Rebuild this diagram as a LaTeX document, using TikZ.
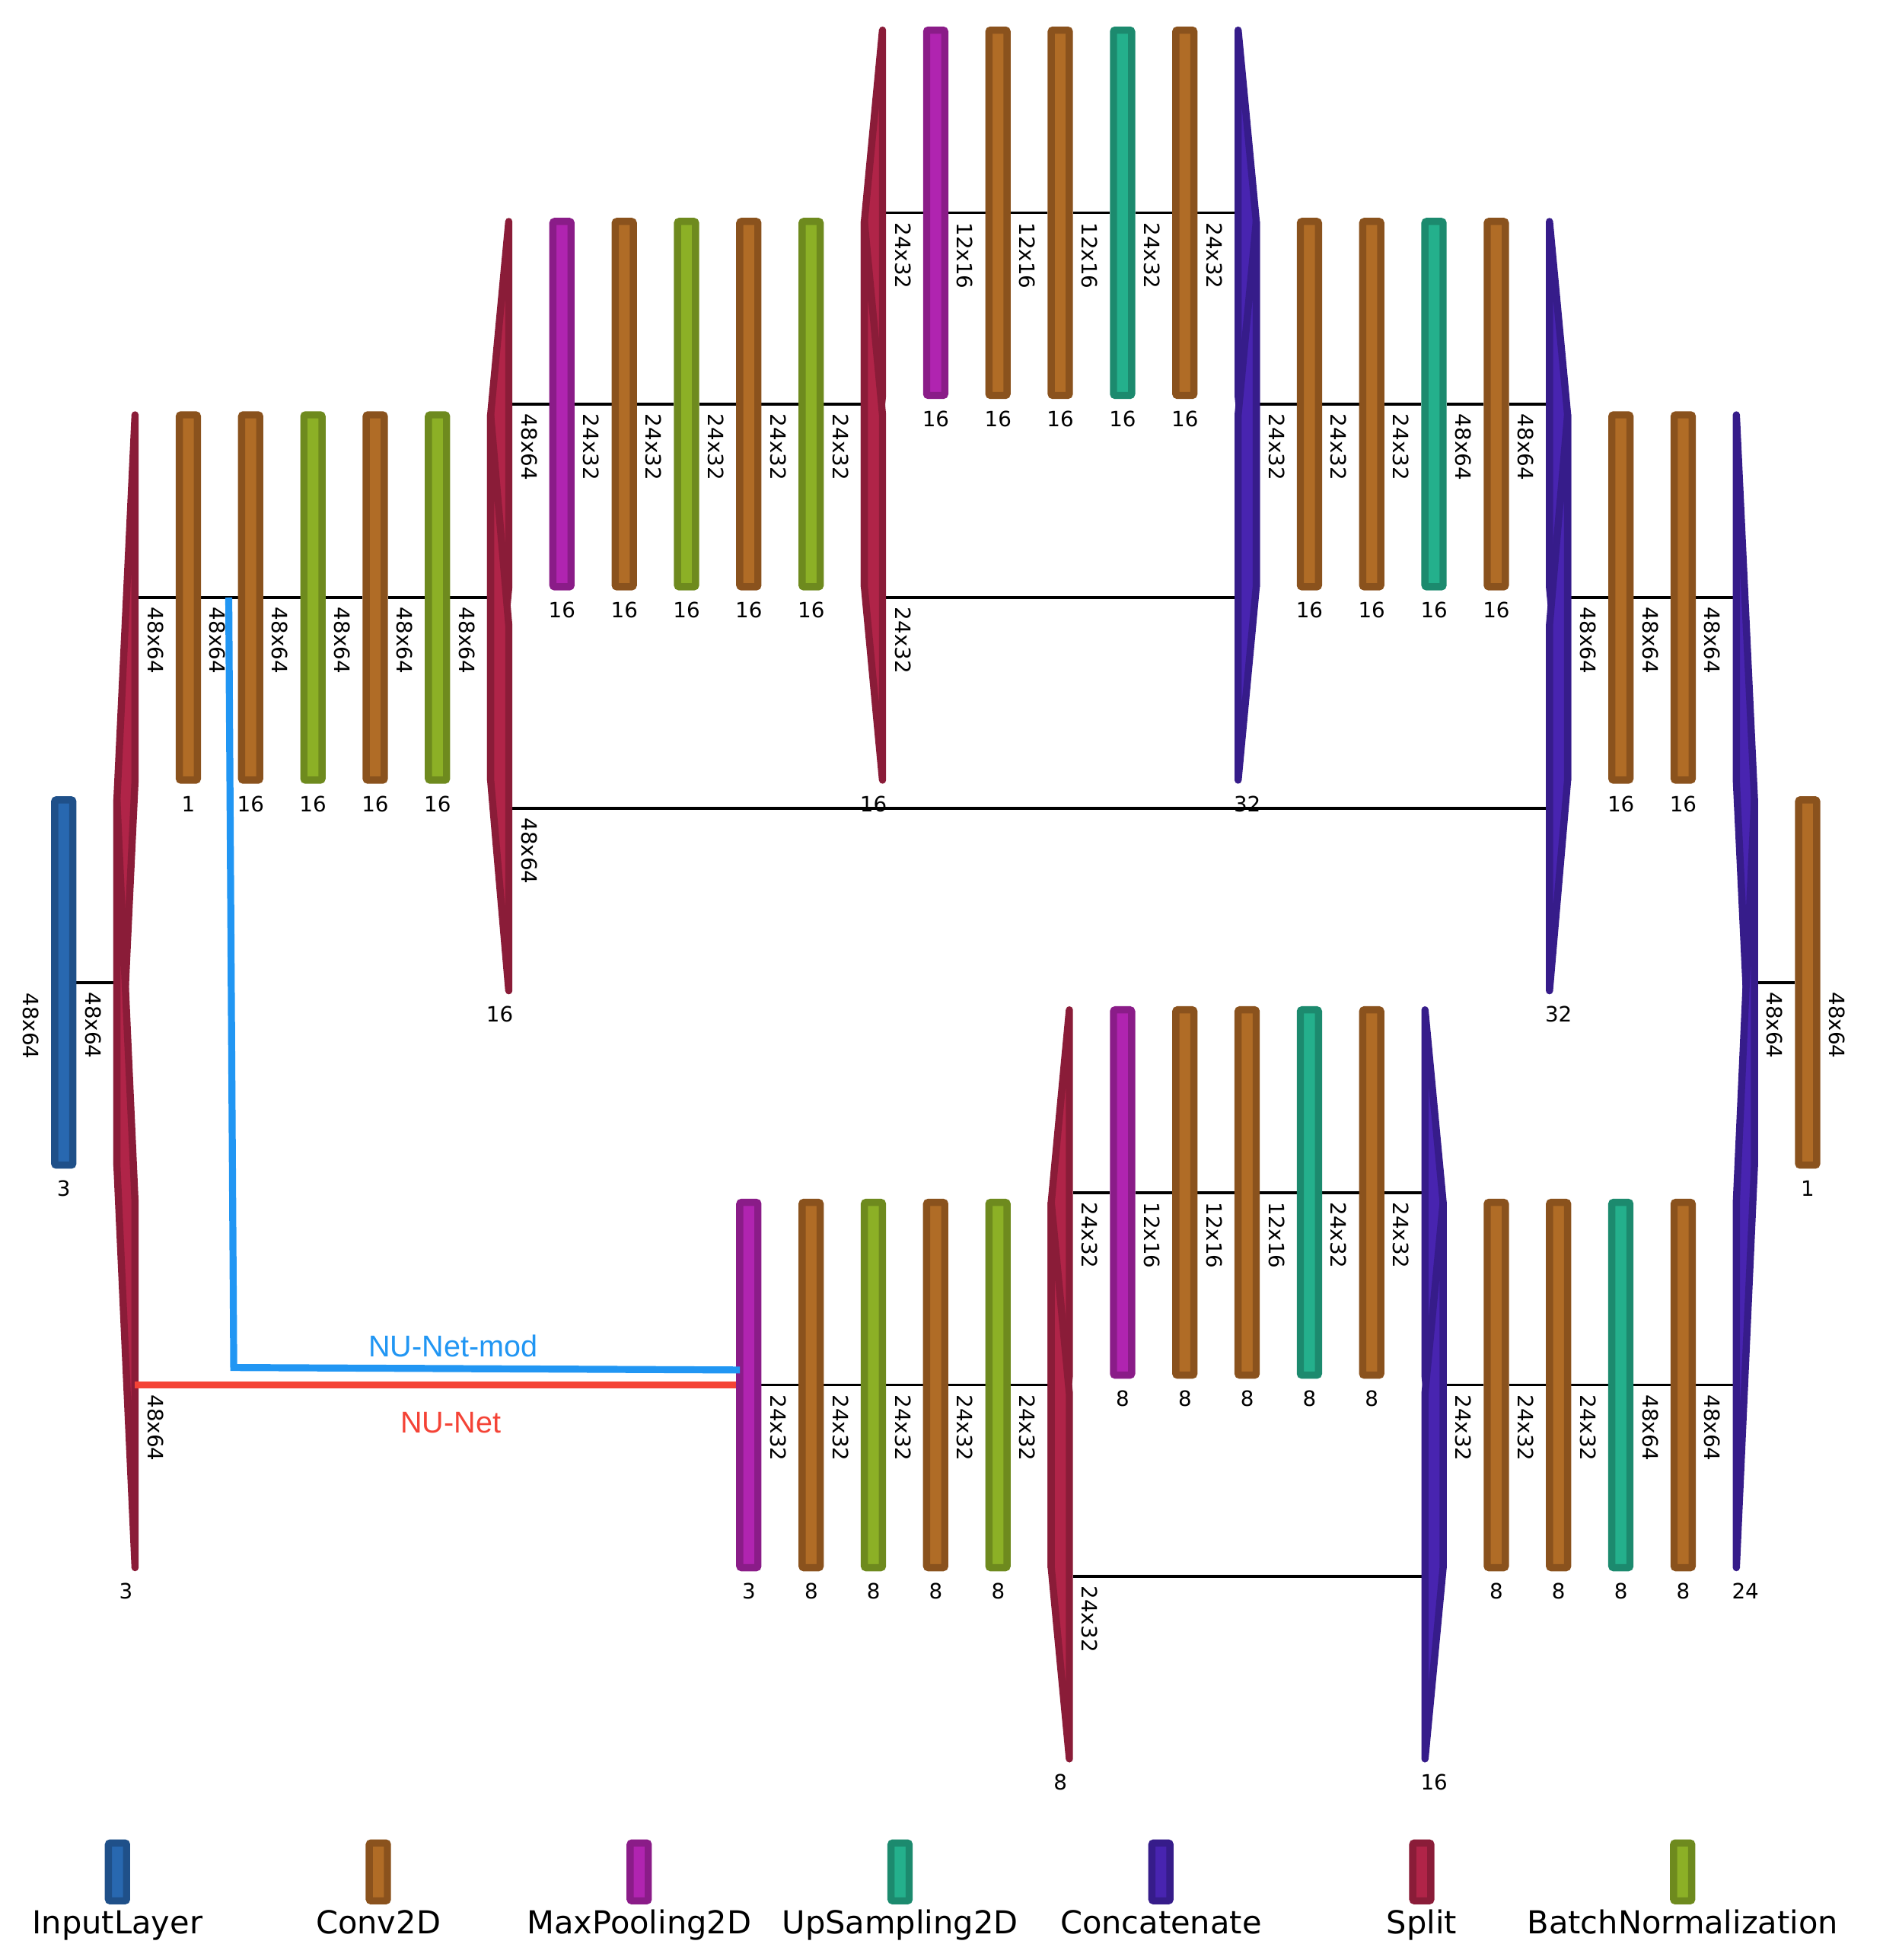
\documentclass[tikz,border=0pt]{standalone}
\usepackage{fontspec}
\setmainfont{DejaVu Sans}
\newfontfamily\netfont{Liberation Sans}
\usepackage{tikz}
\usetikzlibrary{shapes}
\usetikzlibrary{positioning,backgrounds}
\definecolor{inputfill}{RGB}{40,104,176}
\definecolor{inputline}{RGB}{31,80,137}
\definecolor{convfill}{RGB}{176,108,38}
\definecolor{convline}{RGB}{138,82,29}
\definecolor{poolfill}{RGB}{176,36,176}
\definecolor{poolline}{RGB}{138,28,136}
\definecolor{upfill}{RGB}{36,176,140}
\definecolor{upline}{RGB}{28,138,110}
\definecolor{catfill}{RGB}{72,36,176}
\definecolor{catline}{RGB}{54,28,138}
\definecolor{splitfill}{RGB}{176,36,72}
\definecolor{splitline}{RGB}{138,28,56}
\definecolor{bnfill}{RGB}{140,176,38}
\definecolor{bnline}{RGB}{110,138,30}
\definecolor{nunet}{RGB}{244,67,54}
\definecolor{nunetmod}{RGB}{33,150,243}
\tikzstyle{layer} = [draw, rectangle, rounded corners=0.3mm, line width=1.15mm,
    minimum width=2.9mm, minimum height=58.45mm, inner sep=0pt]
\tikzstyle{inlayer} = [layer, fill=inputfill, draw=inputline]
\tikzstyle{conv} = [layer, fill=convfill, draw=convline]
\tikzstyle{pool} = [layer, fill=poolfill, draw=poolline]
\tikzstyle{upsamp} = [layer, fill=upfill, draw=upline]
\tikzstyle{bnorm} = [layer, fill=bnfill, draw=bnline]
\tikzstyle{joinpart} = [line width=1.15mm, line join=round]
\tikzstyle{splitpart} = [joinpart, fill=splitfill, draw=splitline]
\tikzstyle{catpart} = [joinpart, fill=catfill, draw=catline]
\tikzstyle{conn} = [draw=black, line width=0.45mm]
\tikzstyle{nunetline} = [draw=nunet, line width=1.12mm]
\tikzstyle{modline} = [draw=nunetmod, line width=1.12mm]
\tikzstyle{dimlab} = [rotate=-90, anchor=west, inner sep=0pt,
    font=\fontsize{9.6}{11}\selectfont]
\tikzstyle{numlab} = [inner sep=0pt, font=\fontsize{9.6}{11}\selectfont]
\tikzstyle{keylab} = [anchor=base, inner sep=0pt, font=\fontsize{14.4}{16}\selectfont]
\tikzstyle{netlab} = [anchor=base, inner sep=0pt, font=\netfont\fontsize{13.7}{16}\selectfont]

% one skewed piece of a Split / Concatenate block: x, y left, y right, style
\newcommand{\joinpiece}[4]{%
  \filldraw[#4] (#1-7.25,#2-146.1) -- (#1+7.25,#3-146.1)
    -- (#1+7.25,#3+146.1) -- (#1-7.25,#2+146.1) -- cycle;}

\begin{document}
\begin{tikzpicture}[x=0.2mm, y=-0.2mm, node distance=9.966mm]
  \useasboundingbox (0,0) rectangle (1506,1568);

  % upper network
  \node [inlayer] (inp) at (51,786) {};
  \node [conv] (c1) at (150.7,478) {};
  \node [conv, right of=c1] (c2) {};
  \node [bnorm, right of=c2] (b1) {};
  \node [conv, right of=b1] (c3) {};
  \node [bnorm, right of=c3] (b2) {};
  \node [pool] (p1) at (449.6,323.3) {};
  \node [conv, right of=p1] (c4) {};
  \node [bnorm, right of=c4] (b3) {};
  \node [conv, right of=b3] (c5) {};
  \node [bnorm, right of=c5] (b4) {};
  \node [pool] (p2) at (748.6,170.2) {};
  \node [conv, right of=p2] (c6) {};
  \node [conv, right of=c6] (c7) {};
  \node [upsamp, right of=c7] (u1) {};
  \node [conv, right of=u1] (c8) {};
  \node [conv] (c9) at (1047.6,323.3) {};
  \node [conv, right of=c9] (c10) {};
  \node [upsamp, right of=c10] (u2) {};
  \node [conv, right of=u2] (c11) {};
  \node [conv] (c12) at (1296.8,478) {};
  \node [conv, right of=c12] (c13) {};
  \node [conv] (out) at (1446.2,786) {};

  % lower network
  \node [pool] (p3) at (599.1,1108) {};
  \node [conv, right of=p3] (c14) {};
  \node [bnorm, right of=c14] (b5) {};
  \node [conv, right of=b5] (c15) {};
  \node [bnorm, right of=c15] (b6) {};
  \node [pool] (p4) at (898.1,954) {};
  \node [conv, right of=p4] (c16) {};
  \node [conv, right of=c16] (c17) {};
  \node [upsamp, right of=c17] (u3) {};
  \node [conv, right of=u3] (c18) {};
  \node [conv] (c19) at (1197.1,1108) {};
  \node [conv, right of=c19] (c20) {};
  \node [upsamp, right of=c20] (u4) {};
  \node [conv, right of=u4] (c21) {};

  % split and concatenate blocks
  \joinpiece{100.8}{786}{478}{splitpart}
  \joinpiece{100.8}{786}{1108}{splitpart}
  \joinpiece{399.8}{478}{323.3}{splitpart}
  \joinpiece{399.8}{478}{646.5}{splitpart}
  \joinpiece{698.8}{323.3}{170.2}{splitpart}
  \joinpiece{698.8}{323.3}{478}{splitpart}
  \joinpiece{997.8}{170.2}{323.3}{catpart}
  \joinpiece{997.8}{478}{323.3}{catpart}
  \joinpiece{1246.9}{323.3}{478}{catpart}
  \joinpiece{1246.9}{646.5}{478}{catpart}
  \joinpiece{1396.4}{478}{786}{catpart}
  \joinpiece{1396.4}{1108}{786}{catpart}
  \joinpiece{848.3}{1108}{954}{splitpart}
  \joinpiece{848.3}{1108}{1261}{splitpart}
  \joinpiece{1147.3}{954}{1108}{catpart}
  \joinpiece{1147.3}{1261}{1108}{catpart}

  \coordinate (sp1-l) at (90.7,786);
  \coordinate (sp1-a) at (110.9,478);
  \coordinate (sp1-b) at (108,1108);
  \coordinate (sp2-l) at (389.7,478);
  \coordinate (sp2-a) at (409.9,323.3);
  \coordinate (sp2-b) at (409.9,646.5);
  \coordinate (sp3-l) at (688.7,323.3);
  \coordinate (sp3-a) at (708.9,170.2);
  \coordinate (sp3-b) at (708.9,478);
  \coordinate (cat1-a) at (987.7,170.2);
  \coordinate (cat1-b) at (987.7,478);
  \coordinate (cat1-r) at (1007.9,323.3);
  \coordinate (cat2-a) at (1236.8,323.3);
  \coordinate (cat2-b) at (1236.8,646.5);
  \coordinate (cat2-r) at (1257,478);
  \coordinate (cat3-a) at (1386.3,478);
  \coordinate (cat3-b) at (1386.3,1108);
  \coordinate (cat3-r) at (1406.5,786);
  \coordinate (sp4-l) at (838.2,1108);
  \coordinate (sp4-a) at (858.4,954);
  \coordinate (sp4-b) at (858.4,1261);
  \coordinate (cat4-a) at (1137.2,954);
  \coordinate (cat4-b) at (1137.2,1261);
  \coordinate (cat4-r) at (1157.4,1108);
  \coordinate (modtap) at (183,478);
  \coordinate (modbend) at (187,1094);
  \coordinate (modend) at (592,1096);

  \begin{pgfonlayer}{background}
    \draw [conn] (inp) -- (sp1-l);
    \draw [conn] (sp1-a) -- (c1) -- (c2) -- (b1) -- (c3) -- (b2) -- (sp2-l);
    \draw [conn] (sp2-a) -- (p1) -- (c4) -- (b3) -- (c5) -- (b4) -- (sp3-l);
    \draw [conn] (sp3-a) -- (p2) -- (c6) -- (c7) -- (u1) -- (c8) -- (cat1-a);
    \draw [conn] (sp3-b) -- (cat1-b);
    \draw [conn] (cat1-r) -- (c9) -- (c10) -- (u2) -- (c11) -- (cat2-a);
    \draw [conn] (sp2-b) -- (cat2-b);
    \draw [conn] (cat2-r) -- (c12) -- (c13) -- (cat3-a);
    \draw [conn] (cat3-r) -- (out);
    \draw [conn] (p3) -- (c14) -- (b5) -- (c15) -- (b6) -- (sp4-l);
    \draw [conn] (sp4-a) -- (p4) -- (c16) -- (c17) -- (u3) -- (c18) -- (cat4-a);
    \draw [conn] (sp4-b) -- (cat4-b);
    \draw [conn] (cat4-r) -- (c19) -- (c20) -- (u4) -- (c21) -- (cat3-b);
  \end{pgfonlayer}

  % the two variants
  \draw [nunetline] (sp1-b) -- (p3);
  \draw [modline] (modtap) -- (modbend) -- (modend);
  \node [netlab, text=nunetmod] (modname) at (362.5,1085.5) {NU-Net-mod};
  \node [netlab, text=nunet] (netname) at (360.6,1146) {NU-Net};

  % output sizes
  \node [dimlab] (inpsize) at (24.5,794) {48x64};
  \foreach \x/\y/\t in {51.0/786/48x64, 100.8/478/48x64, 150.7/478/48x64,
      200.5/478/48x64, 250.3/478/48x64, 300.2/478/48x64, 350.0/478/48x64,
      399.8/323.3/48x64, 449.6/323.3/24x32, 499.5/323.3/24x32, 549.3/323.3/24x32,
      599.1/323.3/24x32, 649.0/323.3/24x32, 698.8/170.2/24x32, 748.6/170.2/12x16,
      798.5/170.2/12x16, 848.3/170.2/12x16, 898.1/170.2/24x32, 948.0/170.2/24x32,
      997.8/323.3/24x32, 1047.6/323.3/24x32, 1097.4/323.3/24x32, 1147.3/323.3/48x64,
      1197.1/323.3/48x64, 1246.9/478/48x64, 1296.8/478/48x64, 1346.6/478/48x64,
      1396.4/786/48x64, 1446.2/786/48x64, 698.8/478/24x32, 399.8/646.5/48x64,
      100.8/1108/48x64, 599.1/1108/24x32, 649.0/1108/24x32, 698.8/1108/24x32,
      748.6/1108/24x32, 798.5/1108/24x32, 848.3/954/24x32, 898.1/954/12x16,
      948.0/954/12x16, 997.8/954/12x16, 1047.6/954/24x32, 1097.4/954/24x32,
      848.3/1261/24x32, 1147.3/1108/24x32, 1197.1/1108/24x32, 1246.9/1108/24x32,
      1296.8/1108/48x64, 1346.6/1108/48x64}
    \node [dimlab] at (\x+23.5,\y+7.5) {\t};

  % channel counts
  \foreach \x/\y/\t in {51.0/951/3, 150.7/643/1, 200.5/643/16, 250.3/643/16,
      300.2/643/16, 350.0/643/16, 399.8/811.5/16, 449.6/488.3/16, 499.5/488.3/16,
      549.3/488.3/16, 599.1/488.3/16, 649.0/488.3/16, 698.8/643/16,
      748.6/335.2/16, 798.5/335.2/16, 848.3/335.2/16, 898.1/335.2/16,
      948.0/335.2/16, 997.8/643/32, 1047.6/488.3/16, 1097.4/488.3/16,
      1147.3/488.3/16, 1197.1/488.3/16, 1246.9/811.5/32, 1296.8/643/16,
      1346.6/643/16, 1446.2/951/1, 100.8/1273/3, 599.1/1273/3, 649.0/1273/8,
      698.8/1273/8, 748.6/1273/8, 798.5/1273/8, 848.3/1426/8, 898.1/1119/8,
      948.0/1119/8, 997.8/1119/8, 1047.6/1119/8, 1097.4/1119/8, 1147.3/1426/16,
      1197.1/1273/8, 1246.9/1273/8, 1296.8/1273/8, 1346.6/1273/8, 1396.4/1273/24}
    \node [numlab] at (\x,\y) {\t};

  % legend
  \foreach \i/\fc/\dc/\t in {0/inputfill/inputline/InputLayer, 1/convfill/convline/Conv2D,
      2/poolfill/poolline/MaxPooling2D, 3/upfill/upline/UpSampling2D,
      4/catfill/catline/Concatenate, 5/splitfill/splitline/Split,
      6/bnfill/bnline/BatchNormalization}
  {
    \node [layer, fill=\fc, draw=\dc, minimum height=9.25mm] (key\i) at (94+208.7*\i,1497.5) {};
    \node [keylab] (keyname\i) at (94+208.7*\i,1547) {\t};
  }
\end{tikzpicture}
\end{document}
